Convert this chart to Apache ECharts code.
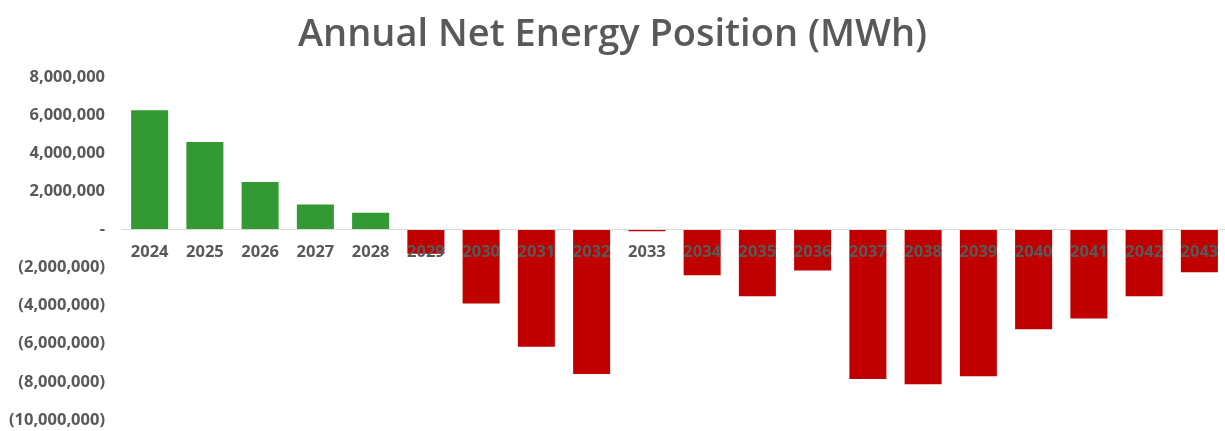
<!DOCTYPE html>
<html>
<head>
<meta charset="utf-8">
<script src="https://cdn.jsdelivr.net/npm/echarts@6/dist/echarts.min.js"></script>
<style>
html,body{margin:0;padding:0;background:#fff;}
#chart{width:1225px;height:431px;}
</style>
</head>
<body>
<div id="chart"></div>
<script>
const title = "Annual Net Energy Position (MWh)";
const years = ["2024","2025","2026","2027","2028","2029","2030","2031","2032","2033","2034","2035","2036","2037","2038","2039","2040","2041","2042","2043"];
const netEnergy = [6250000, 4590000, 2490000, 1310000, 870000, -1270000, -3890000, -6160000, -7590000, -90000, -2410000, -3510000, -2150000, -7850000, -8130000, -7710000, -5240000, -4680000, -3510000, -2250000];
const yMin = -10000000, yMax = 8000000, yStep = 2000000;
const positiveColor = "#339933";
const negativeColor = "#C00000";

function fmt(v){
  if (v === 0) return "-";
  const s = Math.abs(v).toLocaleString("en-US");
  return v < 0 ? "(" + s + ")" : s;
}

const gridTop = 77, gridBottom = 11, H = 431;
const gridHeight = H - gridTop - gridBottom;
// place the category axis at the zero line of the value axis
const zeroOffset = -gridHeight * (0 - yMin) / (yMax - yMin);

const chart = echarts.init(document.getElementById("chart"), null, {renderer:"canvas"});
chart.setOption({
  animation:false,
  backgroundColor:"#ffffff",
  title:{
    text:title,
    left:"center",
    top:11,
    textStyle:{fontFamily:"Open Sans", fontSize:38, fontWeight:600, color:"#595959"}
  },
  grid:{left:122, right:-2, top:gridTop, bottom:gridBottom, containLabel:false, outerBoundsMode:"none"},
  xAxis:{
    type:"category",
    data:years,
    z:10,
    offset:zeroOffset,
    axisLine:{onZero:false, lineStyle:{color:"#d9d9d9", width:1}},
    axisTick:{show:false},
    axisLabel:{interval:0, margin:14, fontFamily:"Open Sans", fontWeight:"bold", fontSize:16.5, color:"#595959"}
  },
  yAxis:{
    type:"value",
    min:yMin, max:yMax, interval:yStep,
    axisLine:{show:false},
    axisTick:{show:false},
    splitLine:{show:false},
    axisLabel:{margin:17, formatter:fmt, fontFamily:"Open Sans", fontWeight:"bold", fontSize:16.5, color:"#595959"}
  },
  series:[{
    type:"bar",
    data:netEnergy.map(v => ({value:v, itemStyle:{color: v >= 0 ? positiveColor : negativeColor}})),
    barCategoryGap:"33%"
  }]
});
</script>
</body>
</html>
